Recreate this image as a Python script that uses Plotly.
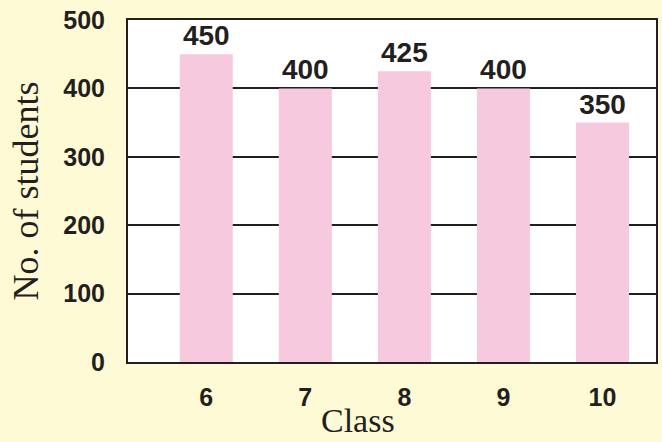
import plotly.graph_objects as go

classes = ["6", "7", "8", "9", "10"]
students = [450, 400, 425, 400, 350]
y_ticks = [0, 100, 200, 300, 400, 500]

ink = "#231f20"
paper = "#fffad6"
fig = go.Figure(go.Bar(
    x=list(range(len(classes))),
    y=students,
    width=0.535,
    marker=dict(color="#f7c9de", line=dict(width=0)),
    text=[str(v) for v in students],
    textposition="outside",
    cliponaxis=False,
    textfont=dict(family="Liberation Sans", size=28, color=ink, weight="bold"),
))

fig.update_layout(
    width=662, height=442,
    margin=dict(l=128, r=6, t=20, b=80),
    paper_bgcolor=paper,
    plot_bgcolor="#ffffff",
    showlegend=False,
    xaxis=dict(
        range=[-0.79, 4.54],
        tickmode="array", tickvals=list(range(len(classes))), ticktext=classes,
        showgrid=False, zeroline=False,
        showline=True, linecolor=ink, linewidth=2, mirror=True,
        ticks="", ticklabelstandoff=12,
        tickfont=dict(family="Liberation Sans", size=25, color=ink, weight="bold"),
        automargin=False,
    ),
    yaxis=dict(
        range=[0, 500],
        tickmode="array", tickvals=y_ticks, ticktext=[str(t) for t in y_ticks],
        showgrid=True, gridcolor=ink, gridwidth=2,
        zeroline=False,
        showline=True, linecolor=ink, linewidth=2, mirror=True,
        ticks="", ticklabelstandoff=16,
        tickfont=dict(family="Liberation Sans", size=25, color=ink, weight="bold"),
        title=dict(text="No. of students", standoff=14,
                   font=dict(family="Liberation Serif", size=36, color=ink)),
        automargin=False,
    ),
    annotations=[dict(
        text="Class", xref="paper", yref="paper", x=0.436, y=0,
        xanchor="center", yanchor="top", yshift=-38, showarrow=False,
        font=dict(family="Liberation Serif", size=34, color=ink),
    )],
)

fig.write_html(
    "out.html",
    config={"displayModeBar": False},
    post_script=f"document.body.style.margin='0';document.body.style.background='{paper}';document.body.style.overflow='hidden';",
)
